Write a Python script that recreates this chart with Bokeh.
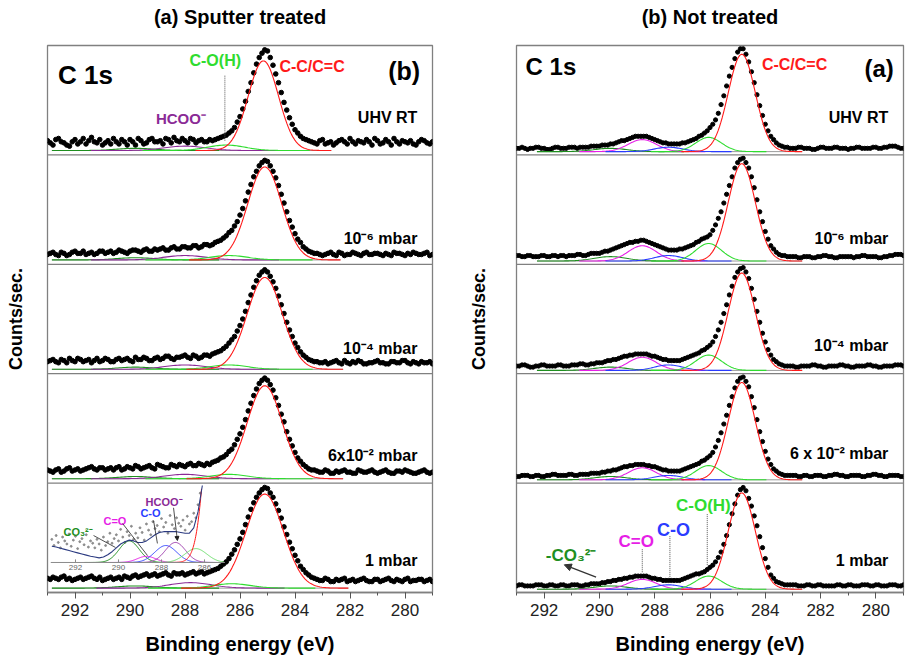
import numpy as np
from bokeh.plotting import figure
from bokeh.layouts import row
from bokeh.models import Range1d, Span, LinearAxis, Arrow, NormalHead, FixedTicker
from bokeh.core.properties import value
from bokeh.embed import file_html
from bokeh.resources import INLINE

FONT = "Liberation Sans"

# binding-energy grid of the measured spectra (eV), 0.1 eV steps
energy = [round(293.0 - 0.1 * k, 1) for k in range(141)]

conditions_sputter = ["UHV RT", "10⁻⁶ mbar", "10⁻⁴ mbar", "6x10⁻² mbar", "1 mbar"]
conditions_untreated = ["UHV RT", "10⁻⁶ mbar", "10⁻⁴ mbar", "6 x 10⁻² mbar", "1 mbar"]

# C 1s counts, normalised per strip (0-100), sputter-treated sample
sputter_uhv = [13, 11, 9, 14, 15, 12, 11, 9, 8, 12, 14, 10, 12, 15, 10, 13, 16, 12, 11, 14,
               9, 11, 13, 10, 15, 12, 10, 14, 12, 9, 14, 12, 9, 15, 13, 10, 11, 14, 15, 12,
               12, 13, 10, 15, 14, 11, 16, 13, 12, 15, 13, 11, 15, 14, 11, 13, 14, 12, 12, 14,
               13, 14, 15, 16, 17, 18, 20, 22, 25, 30, 35, 42, 49, 58, 66, 75, 83, 89, 93, 96,
               95, 89, 82, 74, 66, 57, 48, 41, 34, 28, 23, 20, 17, 15, 14, 13, 12, 11, 10, 13,
               14, 10, 11, 12, 9, 11, 13, 14, 12, 10, 15, 12, 10, 13, 12, 11, 14, 12, 9, 15,
               13, 10, 11, 14, 12, 9, 15, 12, 10, 13, 12, 11, 13, 10, 9, 12, 14, 13, 11, 10,
               12]
sputter_1e6 = [9, 10, 11, 9, 8, 11, 10, 8, 9, 11, 12, 10, 10, 12, 9, 10, 11, 9, 10, 12,
               12, 10, 11, 12, 10, 11, 13, 12, 11, 10, 12, 13, 13, 12, 11, 13, 14, 12, 12, 14,
               13, 14, 15, 13, 13, 15, 16, 14, 14, 16, 16, 15, 15, 17, 17, 15, 16, 18, 18, 17,
               18, 20, 21, 22, 24, 26, 29, 31, 35, 39, 45, 51, 58, 66, 73, 80, 85, 90, 93, 95,
               94, 90, 85, 79, 72, 64, 56, 48, 40, 34, 28, 23, 20, 16, 14, 12, 11, 10, 10, 9,
               8, 9, 10, 11, 9, 8, 11, 10, 8, 9, 9, 11, 10, 9, 8, 10, 11, 9, 9, 10,
               10, 9, 8, 10, 9, 8, 11, 10, 10, 9, 8, 10, 9, 11, 10, 9, 9, 10, 11, 8,
               9]
sputter_1e4 = [11, 12, 13, 11, 10, 13, 12, 10, 14, 12, 11, 14, 13, 11, 12, 13, 10, 12, 14, 11,
               12, 14, 13, 11, 11, 13, 14, 12, 13, 14, 12, 11, 15, 13, 13, 15, 14, 12, 12, 14,
               15, 13, 14, 16, 16, 14, 13, 15, 15, 16, 17, 15, 14, 17, 16, 14, 15, 17, 17, 16,
               18, 19, 20, 21, 23, 25, 28, 31, 34, 39, 44, 50, 57, 65, 72, 79, 85, 90, 93, 95,
               93, 89, 84, 78, 71, 63, 55, 47, 40, 34, 28, 24, 20, 17, 15, 13, 12, 11, 11, 10,
               10, 11, 9, 10, 11, 12, 10, 9, 12, 10, 9, 11, 10, 12, 11, 9, 9, 10, 10, 11,
               12, 10, 10, 9, 9, 11, 11, 10, 10, 12, 12, 10, 9, 11, 10, 9, 11, 10, 10, 11,
               9]
sputter_6e2 = [12, 11, 10, 12, 13, 10, 11, 13, 14, 11, 12, 13, 11, 12, 13, 14, 15, 13, 12, 14,
               14, 12, 13, 14, 12, 14, 15, 12, 13, 15, 14, 13, 16, 15, 13, 14, 15, 16, 14, 13,
               17, 16, 15, 14, 14, 17, 16, 15, 17, 16, 15, 17, 18, 16, 16, 18, 17, 16, 18, 17,
               19, 20, 21, 23, 24, 26, 29, 31, 35, 40, 45, 51, 58, 66, 73, 80, 86, 91, 94, 96,
               94, 90, 85, 78, 71, 63, 56, 47, 40, 34, 28, 23, 20, 17, 15, 13, 12, 12, 11, 10,
               10, 12, 11, 9, 9, 11, 10, 11, 12, 10, 10, 9, 9, 12, 11, 10, 10, 11, 12, 10,
               9, 10, 11, 12, 10, 9, 9, 11, 11, 10, 12, 11, 10, 9, 9, 10, 11, 12, 10, 9,
               10]
sputter_1mbar = [13, 12, 14, 13, 12, 14, 15, 12, 13, 11, 12, 13, 14, 12, 13, 14, 15, 13, 12, 14,
                 11, 12, 13, 14, 12, 13, 14, 12, 15, 14, 13, 15, 16, 14, 15, 16, 17, 15, 16, 17,
                 15, 16, 17, 18, 16, 15, 18, 17, 17, 18, 16, 17, 18, 19, 17, 18, 19, 17, 18, 19,
                 20, 21, 22, 24, 26, 28, 31, 35, 39, 44, 49, 55, 62, 69, 76, 82, 87, 91, 94, 96,
                 95, 91, 87, 81, 75, 68, 60, 53, 46, 40, 34, 29, 24, 21, 18, 16, 14, 13, 12, 11,
                 11, 13, 12, 10, 10, 12, 11, 12, 13, 10, 11, 12, 10, 11, 12, 13, 11, 10, 10, 12,
                 12, 10, 11, 12, 13, 11, 10, 12, 11, 10, 12, 13, 10, 11, 11, 12, 12, 10, 11, 12,
                 10]

# C 1s counts, normalised per strip (0-100), untreated sample
untreated_uhv = [6, 6, 7, 6, 5, 6, 6, 7, 7, 6, 6, 5, 5, 6, 7, 7, 6, 6, 6, 7,
                 7, 7, 6, 7, 7, 7, 7, 8, 8, 8, 8, 9, 9, 9, 10, 10, 11, 12, 13, 13,
                 14, 15, 16, 17, 17, 17, 17, 17, 16, 15, 14, 13, 12, 11, 11, 10, 10, 10, 10, 10,
                 11, 11, 12, 13, 14, 15, 17, 18, 20, 22, 25, 28, 32, 38, 46, 54, 63, 72, 80, 88,
                 94, 97, 97, 92, 85, 76, 66, 55, 45, 36, 28, 22, 17, 14, 11, 9, 8, 7, 7, 6,
                 6, 6, 7, 7, 6, 6, 6, 5, 5, 6, 7, 7, 6, 6, 6, 7, 7, 6, 6, 6,
                 5, 6, 6, 7, 7, 6, 6, 6, 6, 7, 7, 6, 6, 7, 7, 8, 8, 8, 7, 6,
                 6]
untreated_1e6 = [8, 8, 7, 7, 8, 8, 7, 7, 7, 8, 8, 7, 7, 8, 8, 7, 8, 8, 7, 8,
                 8, 8, 9, 9, 8, 8, 9, 10, 10, 10, 10, 11, 12, 12, 13, 14, 15, 16, 17, 18,
                 19, 20, 20, 21, 21, 22, 22, 21, 20, 19, 18, 17, 16, 15, 14, 13, 13, 13, 13, 14,
                 14, 15, 16, 17, 18, 20, 21, 23, 24, 25, 27, 31, 36, 42, 48, 56, 64, 72, 80, 88,
                 93, 96, 97, 93, 88, 80, 70, 59, 48, 39, 30, 23, 17, 14, 11, 9, 8, 8, 7, 7,
                 7, 7, 6, 6, 7, 7, 7, 6, 6, 7, 7, 8, 8, 7, 7, 6, 6, 7, 7, 7,
                 7, 7, 6, 7, 7, 8, 8, 7, 7, 7, 7, 6, 6, 7, 7, 8, 8, 9, 9, 9,
                 8]
untreated_1e4 = [7, 7, 8, 8, 7, 6, 6, 7, 7, 8, 8, 7, 7, 7, 7, 8, 8, 7, 7, 7,
                 8, 8, 8, 9, 9, 8, 8, 9, 9, 10, 10, 10, 11, 12, 12, 13, 13, 14, 15, 16,
                 16, 17, 17, 18, 18, 18, 18, 18, 17, 16, 16, 15, 14, 13, 13, 12, 12, 12, 12, 12,
                 13, 14, 15, 16, 17, 18, 19, 21, 22, 24, 26, 29, 34, 40, 47, 55, 63, 72, 80, 88,
                 93, 96, 97, 93, 87, 78, 68, 57, 47, 37, 29, 22, 17, 13, 11, 9, 8, 7, 7, 7,
                 7, 6, 6, 7, 7, 7, 7, 8, 8, 7, 7, 6, 6, 7, 7, 7, 7, 8, 8, 7,
                 7, 6, 6, 7, 7, 7, 7, 8, 8, 7, 7, 6, 6, 7, 7, 7, 7, 8, 8, 8,
                 7]
untreated_6e2 = [6, 6, 7, 7, 7, 6, 6, 7, 7, 6, 6, 7, 7, 8, 8, 7, 7, 7, 7, 8,
                 8, 7, 7, 8, 8, 8, 8, 9, 9, 9, 9, 10, 10, 11, 11, 12, 12, 13, 14, 15,
                 15, 16, 16, 17, 17, 17, 17, 16, 16, 15, 15, 14, 13, 12, 12, 11, 11, 11, 11, 11,
                 12, 13, 14, 15, 16, 17, 18, 20, 21, 23, 25, 28, 33, 39, 46, 54, 62, 71, 79, 87,
                 93, 96, 97, 93, 88, 79, 69, 58, 47, 38, 29, 22, 17, 13, 11, 9, 8, 7, 7, 7,
                 7, 7, 6, 6, 7, 7, 6, 6, 7, 7, 7, 6, 6, 7, 7, 8, 8, 7, 7, 6,
                 6, 7, 7, 7, 7, 6, 6, 7, 7, 8, 8, 7, 7, 6, 6, 7, 7, 7, 7, 6,
                 6]
untreated_1mbar = [6, 7, 7, 6, 6, 6, 6, 7, 7, 7, 6, 6, 7, 7, 6, 6, 7, 7, 6, 6,
                   7, 7, 7, 6, 6, 7, 7, 8, 8, 8, 8, 9, 9, 10, 10, 11, 11, 12, 12, 13,
                   13, 14, 14, 15, 15, 15, 15, 15, 14, 13, 13, 12, 12, 11, 11, 11, 11, 11, 11, 11,
                   12, 13, 14, 15, 16, 17, 17, 18, 19, 21, 23, 25, 28, 32, 37, 44, 52, 62, 72, 81,
                   89, 94, 96, 93, 86, 79, 70, 61, 51, 41, 31, 23, 16, 13, 10, 9, 8, 7, 7, 7,
                   7, 7, 6, 6, 6, 7, 7, 6, 6, 7, 7, 6, 6, 6, 6, 6, 7, 7, 6, 6,
                   7, 7, 6, 6, 6, 7, 7, 7, 6, 6, 7, 7, 6, 6, 6, 7, 7, 7, 6, 6,
                   7]

# fitted components: centre (eV), FWHM (eV), height per strip
sputter_base = 4
sputter_cc = ([285.15, 285.1, 285.1, 285.1, 285.1], [1.3, 1.45, 1.5, 1.5, 1.6], [82, 85, 84, 85, 86])
sputter_coh = ([286.5, 286.4, 286.4, 286.4, 286.3], [1.6] * 5, [5, 4, 4, 4, 4])
sputter_hcoo = ([288.0, 288.0, 288.0, 288.0, 287.8], [1.8] * 5, [4, 4, 4, 4, 5])
sputter_co3 = ([289.8] * 5, [1.6] * 5, [2, 2, 2, 2, 2])

untreated_base = 3
untreated_cc = ([284.85] * 5, [1.15] * 5, [89, 89, 89, 89, 88])
untreated_coh = ([286.05] * 5, [1.1] * 5, [13, 16, 14, 13, 12])
untreated_co = ([287.5] * 5, [1.2] * 5, [4, 5, 5, 4, 4])
untreated_ceo = ([288.45] * 5, [1.2] * 5, [11, 14, 12, 11, 9])
untreated_co3 = ([289.6] * 5, [1.4] * 5, [3, 4, 3, 3, 3])

# enlarged high-BE region of the 1 mbar sputter spectrum
inset_energy = [round(293.1 - 0.1 * k, 1) for k in range(70)]
inset_counts = [30, 22, 35, 26, 19, 33, 28, 24, 37, 21,
                29, 34, 18, 27, 31, 23, 36, 20, 28, 25,
                19, 30, 24, 16, 33, 22, 27, 38, 25, 31,
                36, 28, 43, 33, 26, 40, 35, 47, 30, 38,
                32, 45, 39, 29, 50, 42, 36, 53, 44, 48,
                40, 57, 46, 52, 38, 61, 49, 44, 58, 51,
                47, 55, 42, 60, 50, 53, 64, 58, 75, 90]
envelope_energy = [round(293.1 - 0.2 * k, 1) for k in range(36)]
envelope_counts = [21, 20, 18.5, 17, 15.5, 14, 12.5, 11, 9.5, 8, 7, 6, 7, 10, 14, 19, 24, 27,
                   29, 28, 26, 26, 28, 32, 36, 39, 40, 40, 40, 40, 39, 38, 38, 45, 66, 100]
inset_ticks = [292, 290, 288, 286]
# colour, centre, FWHM, height
inset_components = [
    ("#1f8f1f", 289.5, 1.1, 28),
    ("#e61ee6", 288.7, 1.0, 8),
    ("#3a4dff", 287.8, 1.2, 22),
    ("#a040b0", 287.35, 1.1, 26),
    ("#6ee06e", 286.4, 1.2, 18),
    ("#ff1a1a", 285.1, 1.3, 560),
]

RED = "#ff1a1a"
GREEN = "#2fdc2f"
BLUE = "#2a3cff"
MAGENTA = "#e61ee6"
PURPLE = "#8a2a96"
DKGREEN = "#1f8f1f"
GRAY = "#808080"

offsets = [400, 300, 200, 100, 0]


def gauss(x, c, f, h):
    return h * np.exp(-4.0 * np.log(2.0) * ((x - c) / f) ** 2)


def put(p, x, y, s, size, color="black", align="center", **kw):
    p.text(x=[x], y=[y], text=[s], text_font=value(FONT), text_font_size=value(size),
           text_font_style="bold", text_color=color, text_align=align,
           text_baseline="middle", **kw)


def label_axis(text, size, standoff):
    # tick-less axis that only carries a heading
    return LinearAxis(axis_label=text, ticker=FixedTicker(ticks=[]), axis_line_color=None,
                      major_tick_line_color=None, minor_tick_line_color=None,
                      major_tick_in=0, major_tick_out=0, minor_tick_in=0, minor_tick_out=0,
                      major_label_standoff=0, major_label_text_font_size="0px",
                      axis_label_text_font=FONT, axis_label_text_font_size=size,
                      axis_label_text_font_style="bold", axis_label_text_color="black",
                      axis_label_standoff=standoff)


def frame(title, width, left, right, ylab_standoff):
    p = figure(width=width, height=662, x_range=Range1d(293, 279), y_range=Range1d(0, 500),
               y_axis_location=None, output_backend="svg", toolbar_location=None,
               min_border_left=left, min_border_right=right, min_border_top=45,
               min_border_bottom=70)
    p.xgrid.visible = False
    p.ygrid.visible = False
    p.outline_line_color = GRAY
    p.outline_line_width = 1.3
    ax = p.xaxis[0]
    ax.ticker = FixedTicker(ticks=list(range(280, 293, 2)), minor_ticks=list(range(279, 294)))
    ax.axis_line_color = GRAY
    ax.axis_line_width = 1.3
    ax.major_tick_line_color = "#555555"
    ax.minor_tick_line_color = "#555555"
    ax.major_tick_in = 0
    ax.major_tick_out = 6
    ax.minor_tick_in = 0
    ax.minor_tick_out = 3
    ax.major_label_standoff = 5
    ax.major_label_text_font = FONT
    ax.major_label_text_font_size = "17px"
    ax.major_label_text_color = "#222222"
    ax.axis_label = "Binding energy (eV)"
    ax.axis_label_text_font = FONT
    ax.axis_label_text_font_size = "20px"
    ax.axis_label_text_font_style = "bold"
    ax.axis_label_text_color = "black"
    ax.axis_label_standoff = 14
    p.add_layout(label_axis(title, "20px", 18), "above")
    p.add_layout(label_axis("Counts/sec.", "18px", ylab_standoff), "left")
    for y in offsets[:-1]:
        p.add_layout(Span(location=y, dimension="width", line_color=GRAY, line_width=1.3))
    return p


def draw_rows(p, spectra, comps, base, dot):
    for i, counts in enumerate(spectra):
        off = offsets[i]
        p.scatter(energy, [v + off for v in counts], size=dot, color="black", marker="circle")
        lo = min(c[0][i] - 1.9 * c[1][i] for c, _ in comps)
        hi = max(c[0][i] + 1.9 * c[1][i] for c, _ in comps)
        p.line([hi, lo], [base + off, base + off], line_color="#9a9a9a", line_width=1)
        for (centres, fwhms, heights), color in comps:
            c, f, h = centres[i], fwhms[i], heights[i]
            xs = np.linspace(c + 1.9 * f, c - 1.9 * f, 90)
            p.line(xs, base + off + gauss(xs, c, f, h), line_color=color, line_width=1.1)


# ---------------- sputter treated ----------------
pl = frame("(a) Sputter treated", 465, 47, 33, 22)
draw_rows(pl, [sputter_uhv, sputter_1e6, sputter_1e4, sputter_6e2, sputter_1mbar],
          [(sputter_co3, DKGREEN), (sputter_hcoo, PURPLE), (sputter_coh, GREEN), (sputter_cc, RED)],
          sputter_base, 4.6)

for i, (txt, ly) in enumerate(zip(conditions_sputter, [34, 24, 23, 25, 29])):
    put(pl, 279.55, offsets[i] + ly, txt, "16px", align="right")
put(pl, 292.62, 472.6, "C 1s", "26px", align="left")
put(pl, 279.45, 477, "(b)", "25px", align="right")
put(pl, 286.9, 486, "C-O(H)", "16px", GREEN)
put(pl, 283.38, 481, "C-C/C=C", "16px", RED)
put(pl, 288.15, 433, "HCOO⁻", "15px", PURPLE)
pl.segment(x0=[286.55], y0=[413], x1=[286.55], y1=[472.6], line_color="#555555",
           line_dash="1 1", line_width=1)

# inset: magnified 293-285 eV region of the 1 mbar spectrum
pl.extra_x_ranges = {"ix": Range1d(293.302, 275.395)}
pl.extra_y_ranges = {"iy": Range1d(-39, 671.4)}
IK = dict(x_range_name="ix", y_range_name="iy")
pl.scatter(inset_energy, inset_counts, size=1.9, color="#8c8c8c", **IK)
for color, c, f, h in inset_components:
    xs = np.linspace(min(c + 1.9 * f, 293.15), max(c - 1.9 * f, 285.1), 120)
    ys = gauss(xs, c, f, h)
    keep = ys <= 100
    pl.line(xs[keep], ys[keep], line_color=color, line_width=1, **IK)
pl.line(envelope_energy, envelope_counts, line_color="#2b3a80", line_width=1.1, **IK)
pl.line([293.15, 285.05], [0, 0], line_color="#8a8a8a", line_width=1, **IK)
pl.segment(x0=inset_ticks, y0=[0] * 4, x1=inset_ticks, y1=[4] * 4, line_color="#8a8a8a", **IK)
pl.text(x=inset_ticks, y=[-7] * 4, text=[str(t) for t in inset_ticks], text_font=value(FONT),
        text_font_size=value("8px"), text_color="#666666", text_align="center",
        text_baseline="middle", **IK)
put(pl, 292.56, 39, "CO₃²⁻", "11px", DKGREEN, "left", **IK)
put(pl, 290.7, 54.5, "C=O", "11px", MAGENTA, "left", **IK)
put(pl, 288.98, 63.6, "C-O", "11px", BLUE, "left", **IK)
put(pl, 288.74, 78, "HCOO⁻", "11px", PURPLE, "left", **IK)
pl.segment(x0=[291.16, 289.81, 288.37], y0=[35, 50.6, 54.5], x1=[290.14, 288.65, 288.19],
           y1=[19.5, 9, 24.7], line_color="#222222", line_width=0.8, **IK)
pl.add_layout(Arrow(end=NormalHead(size=4, fill_color="#222222", line_color="#222222"),
                    x_start=287.44, y_start=71, x_end=287.26, y_end=28.6,
                    line_color="#222222", line_width=0.8, **IK))

# ---------------- not treated ----------------
pr = frame("(b) Not treated", 446, 51, 8, 28)
draw_rows(pr, [untreated_uhv, untreated_1e6, untreated_1e4, untreated_6e2, untreated_1mbar],
          [(untreated_co3, DKGREEN), (untreated_ceo, MAGENTA), (untreated_co, BLUE),
           (untreated_coh, GREEN), (untreated_cc, RED)],
          untreated_base, 4.2)

for i, (txt, ly) in enumerate(zip(conditions_untreated, [34, 24, 26, 27, 29])):
    put(pr, 279.55, offsets[i] + ly, txt, "16px", align="right")
put(pr, 292.67, 481, "C 1s", "24px", align="left")
put(pr, 279.35, 479, "(a)", "24px", align="right")
put(pr, 282.94, 483, "C-C/C=C", "16px", RED)
put(pr, 286.24, 79.5, "C-O(H)", "17px", GREEN)
put(pr, 287.32, 57, "C-O", "18px", BLUE)
put(pr, 288.67, 47, "C=O", "17px", MAGENTA)
put(pr, 291.94, 34, "-CO₃²⁻", "17px", DKGREEN, "left")
pr.segment(x0=[286.1, 287.45, 288.45], y0=[25, 14, 18.5], x1=[286.1, 287.45, 288.45],
           y1=[72, 52, 40], line_color="#555555", line_dash="1 1", line_width=1)
pr.add_layout(Arrow(end=NormalHead(size=7, fill_color="#333333", line_color="#333333"),
                    x_start=290.12, y_start=14, x_end=291.27, y_end=25.3,
                    line_color="#333333", line_width=1.2))

layout = row(pl, pr)
open("out.html", "w").write(file_html(layout, INLINE))
